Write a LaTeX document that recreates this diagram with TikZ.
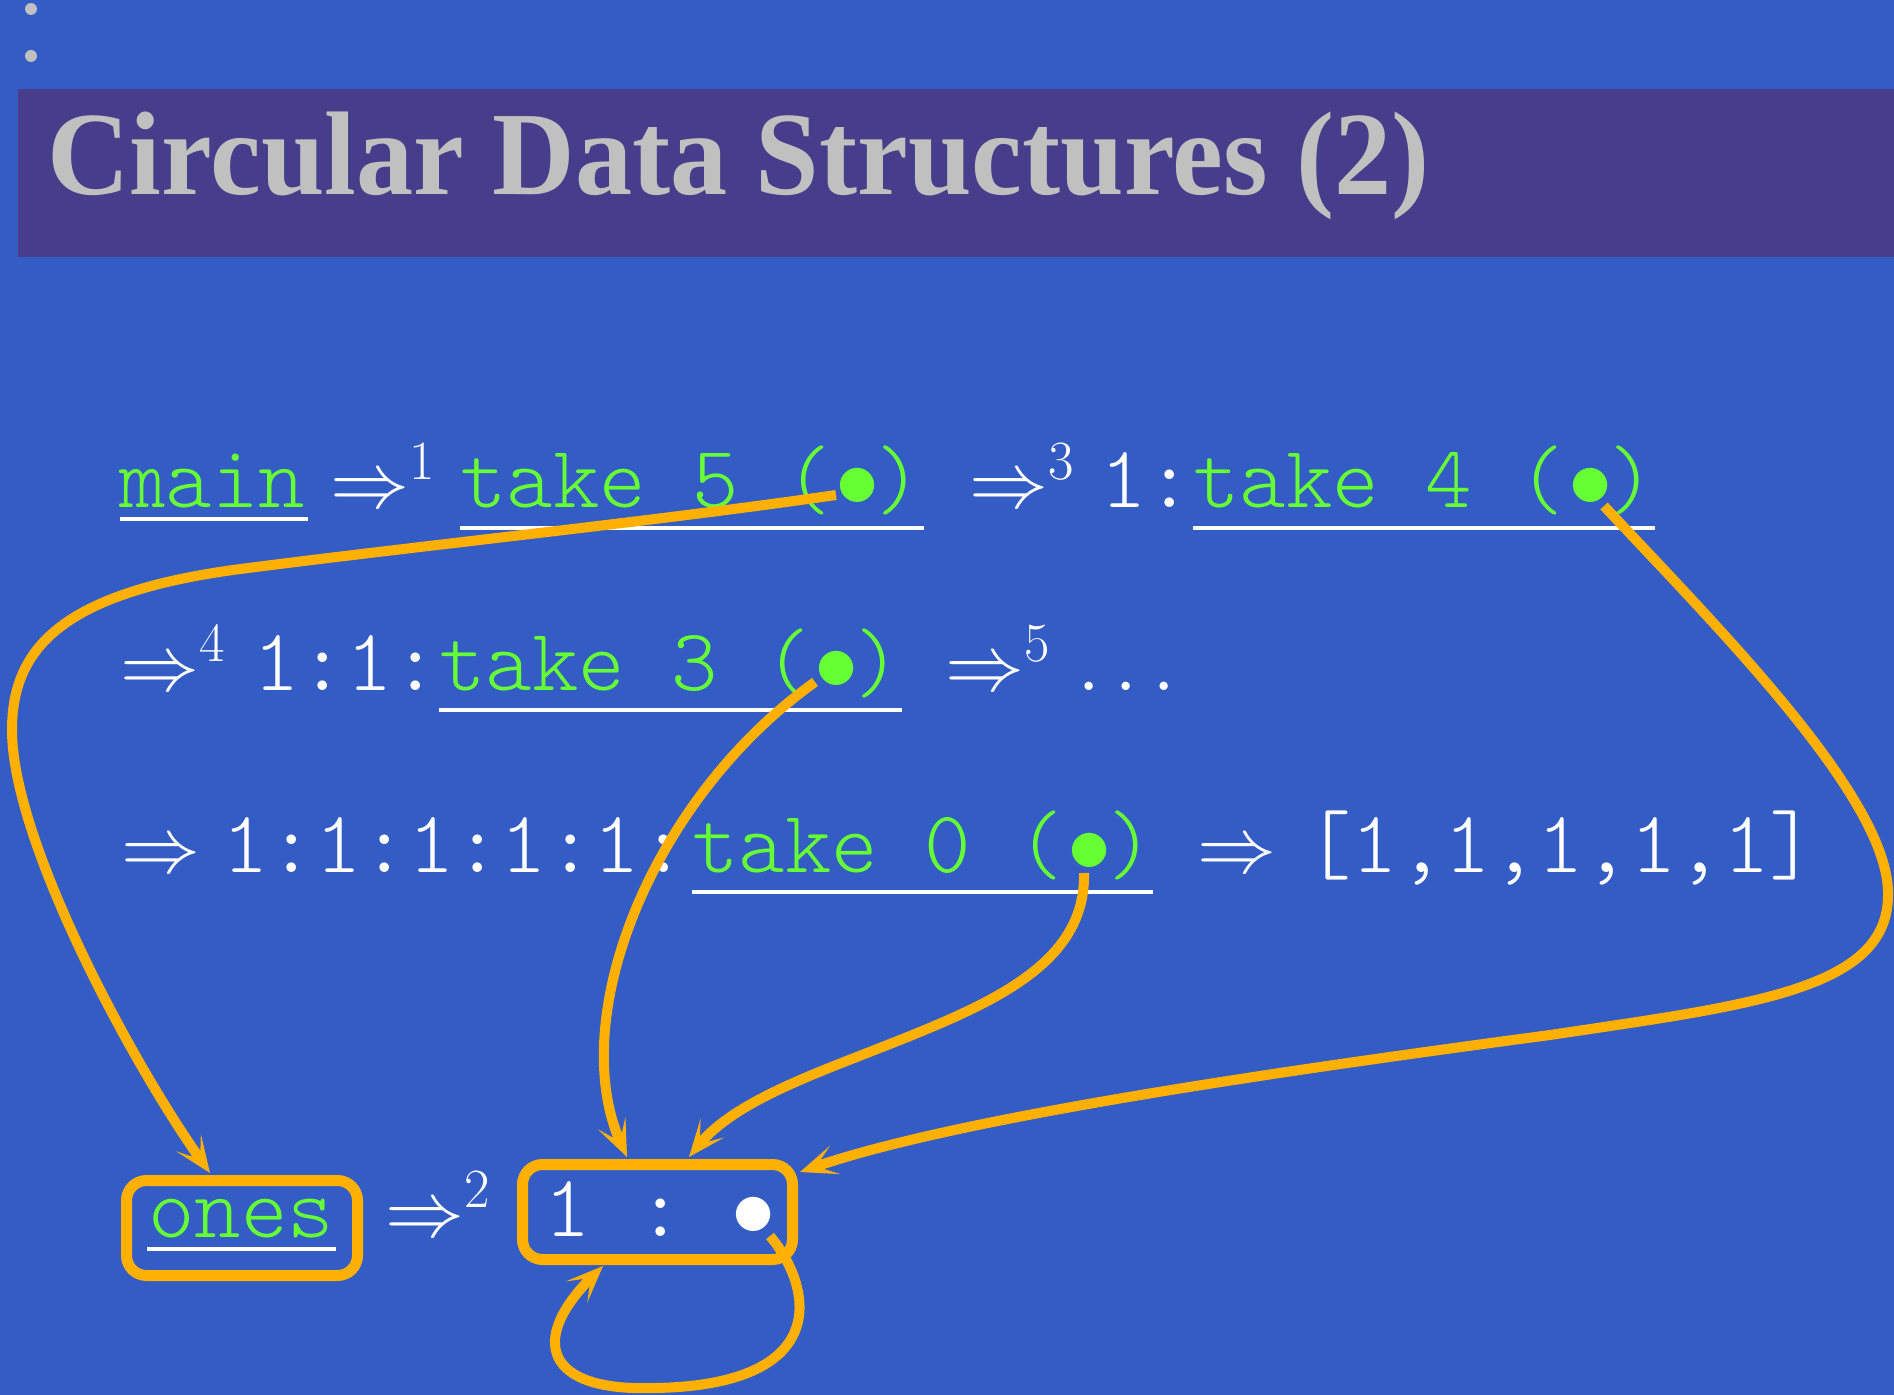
\RequirePackage{fix-cm}
\documentclass[tikz,border=0pt]{standalone}
\usepackage{fontspec}
\newfontfamily\titlefont{Liberation Serif}[FakeStretch=0.96]
\setmonofont{Latin Modern Mono Light}
\usetikzlibrary{arrows.meta}
\definecolor{bgblue}{RGB}{51,92,197}
\definecolor{barpurple}{RGB}{72,61,139}
\definecolor{codegreen}{RGB}{102,255,51}
\definecolor{arrorange}{RGB}{255,176,0}
\definecolor{titlegray}{RGB}{192,192,192}
\newcommand{\cbul}{\kern2pt$\bullet$\kern-2pt}
\begin{document}
\begin{tikzpicture}[x=0.5pt,y=-0.5pt,
  code/.style={font=\fontsize{44.2}{50}\selectfont\ttfamily\frenchspacing, text=codegreen, inner sep=0pt, anchor=base west},
  wcode/.style={code, text=white},
  sym/.style={font=\fontsize{39.5}{45}\selectfont, text=white, inner sep=0pt, anchor=base west},
  uline/.style={white, line width=2pt},
  conn/.style={arrorange, line width=5pt, -{Stealth[length=18.5pt,width=15pt,inset=10pt]}},
  cellbox/.style={draw=arrorange, line width=5.5pt, rounded corners=10pt, inner sep=0pt}]
\useasboundingbox (0,0) rectangle (1894,1395);
\fill[bgblue] (0,0) rectangle (1894,1395);
\fill[barpurple] (18,89) rectangle (1894,257);
\fill[titlegray] (31,9) circle[radius=3pt];
\fill[titlegray] (31,56) circle[radius=3pt];
\node[anchor=base west, inner sep=0pt, text=titlegray, font=\titlefont\bfseries\fontsize{59.5}{70}\selectfont] (title) at (47,195) {Circular Data Structures (2)};

% line 1
\node[code] (main) at (119,508) {main};
\node[sym] (r1) at (330,508) {$\Rightarrow^1$};
\node[code] (take5) at (460,508) {take 5 (\cbul)};
\node[sym] (r3) at (969,508) {$\Rightarrow^3$};
\node[wcode] (c1) at (1100,508) {1:};
\node[code] (take4) at (1193,508) {take 4 (\cbul)};
% line 2
\node[sym] (r4) at (120,690) {$\Rightarrow^4$};
\node[wcode] (c2) at (253,690) {1:1:};
\node[code] (take3) at (439,690) {take 3 (\cbul)};
\node[sym] (r5) at (945,690) {$\Rightarrow^5$};
\node[sym, font=\fontsize{43}{48}\selectfont] (dots) at (1077,690) {$\ldots$};
% line 3
\node[sym] (r6) at (121,872) {$\Rightarrow$};
\node[wcode] (c3) at (222,872) {1:1:1:1:1:};
\node[code] (take0) at (692,872) {take 0 (\cbul)};
\node[sym] (r7) at (1197,872) {$\Rightarrow$};
\node[wcode] (res) at (1305,872) {[1,1,1,1,1]};
% line 4
\node[cellbox, minimum width=115.5pt, minimum height=47.5pt] (onesbox) at (242,1228) {};
\node[code] (ones) at (148,1237) {ones};
\node[sym] (r2) at (385,1236) {$\Rightarrow^2$};
\node[cellbox, minimum width=135pt, minimum height=47.5pt] (consbox) at (657.5,1212) {};
\node[wcode] (cons) at (544,1236) {1 : \kern0.5pt$\bullet$};

% underlines
\draw[uline] (120,519) -- (308,519);
\draw[uline] (460,528) -- (924,528);
\draw[uline] (1193,528) -- (1655,528);
\draw[uline] (439,710) -- (902,710);
\draw[uline] (692,892) -- (1153,892);
\draw[uline] (147,1249) -- (336,1249);

% connector ends
\coordinate (s5) at (836,495);
\coordinate (s4) at (1604,506);
\coordinate (s3) at (815,682);
\coordinate (s0) at (1084,873);
\coordinate (sl) at (770,1236);
\coordinate (t1) at (210,1173);
\coordinate (t2) at (800,1172);
\coordinate (t3) at (627,1157);
\coordinate (t4) at (689,1157);
\coordinate (t5) at (603,1266);

\draw[conn] (s5) .. controls (650,522) and (400,548) .. (233,570) .. controls (60,594) and (12,650) .. (12,730) .. controls (12,840) and (130,1060) .. (t1);
\draw[conn] (s4) .. controls (1720,630) and (1890,800) .. (1888,895) .. controls (1888,990) and (1750,1005) .. (1550,1035) .. controls (1250,1075) and (950,1120) .. (t2);
\draw[conn] (s3) .. controls (650,800) and (565,1020) .. (t3);
\draw[conn] (s0) .. controls (1086,960) and (1000,1000) .. (900,1040) .. controls (820,1072) and (735,1100) .. (t4);
\draw[conn] (sl) .. controls (815,1290) and (830,1385) .. (655,1388) .. controls (545,1392) and (528,1340) .. (t5);
\end{tikzpicture}
\end{document}
